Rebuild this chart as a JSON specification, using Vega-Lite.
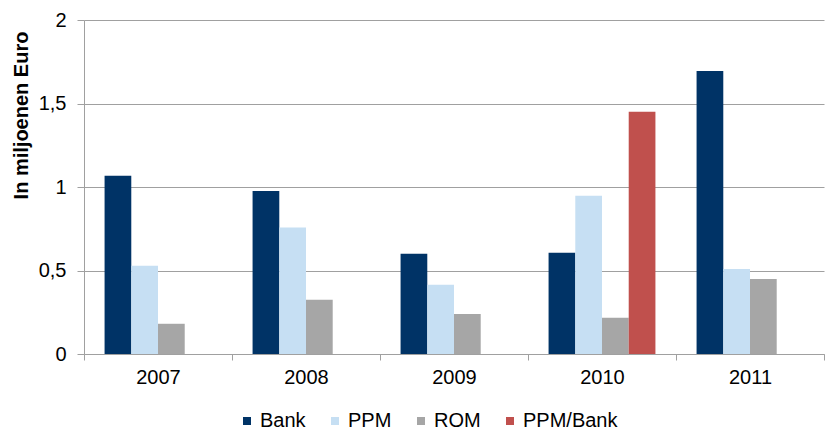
{
  "$schema": "https://vega.github.io/schema/vega-lite/v6.json",
  "width": 740,
  "height": 334,
  "autosize": {"type": "none"},
  "padding": {"left": 84, "top": 20, "right": 1, "bottom": 78},
  "background": "white",
  "config": {
    "font": "Liberation Sans",
    "view": {"stroke": null},
    "locale": {"number": {"decimal": ",", "thousands": ".", "grouping": [3], "currency": ["€", ""]}}
  },
  "data": {
    "values": [
      {"year": "2007", "series": "Bank", "value": 1.068},
      {"year": "2007", "series": "PPM", "value": 0.529},
      {"year": "2007", "series": "ROM", "value": 0.181},
      {"year": "2008", "series": "Bank", "value": 0.976},
      {"year": "2008", "series": "PPM", "value": 0.757},
      {"year": "2008", "series": "ROM", "value": 0.325},
      {"year": "2009", "series": "Bank", "value": 0.601},
      {"year": "2009", "series": "PPM", "value": 0.415},
      {"year": "2009", "series": "ROM", "value": 0.24},
      {"year": "2010", "series": "Bank", "value": 0.607},
      {"year": "2010", "series": "PPM", "value": 0.948},
      {"year": "2010", "series": "ROM", "value": 0.217},
      {"year": "2010", "series": "PPM/Bank", "value": 1.451},
      {"year": "2011", "series": "Bank", "value": 1.695},
      {"year": "2011", "series": "PPM", "value": 0.509},
      {"year": "2011", "series": "ROM", "value": 0.449}
    ]
  },
  "mark": {"type": "bar"},
  "encoding": {
    "x": {
      "field": "year", "type": "nominal",
      "scale": {"paddingInner": 0, "paddingOuter": 0},
      "axis": {
        "title": null, "labelAngle": 0, "labelFontSize": 20, "labelColor": "#000000",
        "domainColor": "#a0a0a0", "tickColor": "#a0a0a0", "tickSize": 6,
        "tickBand": "extent", "labelPadding": 7, "grid": false
      }
    },
    "xOffset": {
      "field": "series", "type": "nominal",
      "sort": ["Bank", "PPM", "ROM", "PPM/Bank"],
      "scale": {"domain": ["Bank", "PPM", "ROM", "PPM/Bank"], "paddingInner": 0, "paddingOuter": 0.77}
    },
    "y": {
      "field": "value", "type": "quantitative",
      "scale": {"domain": [0, 2], "nice": false},
      "axis": {
        "title": "In miljoenen Euro", "titleFontSize": 20, "titleFontWeight": "bold", "titleColor": "#000000",
        "titleX": -57, "titleY": 95, "titleAngle": 270, "titleAlign": "center", "titleBaseline": "alphabetic",
        "values": [0, 0.5, 1, 1.5, 2], "format": "~g",
        "labelFontSize": 20, "labelColor": "#000000", "labelPadding": 11,
        "domainColor": "#a0a0a0", "tickColor": "#a0a0a0", "tickSize": 7,
        "gridColor": "#a0a0a0", "gridWidth": 1
      }
    },
    "color": {
      "field": "series", "type": "nominal",
      "scale": {"domain": ["Bank", "PPM", "ROM", "PPM/Bank"], "range": ["#003366", "#c6dff3", "#a6a6a6", "#c0504d"]},
      "legend": {
        "title": null, "orient": "none", "direction": "horizontal",
        "legendX": 153, "legendY": 391, "padding": 0,
        "symbolType": "square", "symbolSize": 64, "symbolStrokeWidth": 0,
        "labelFontSize": 20, "labelColor": "#000000", "columnPadding": 19,
        "labelOffset": 3
      }
    }
  }
}
